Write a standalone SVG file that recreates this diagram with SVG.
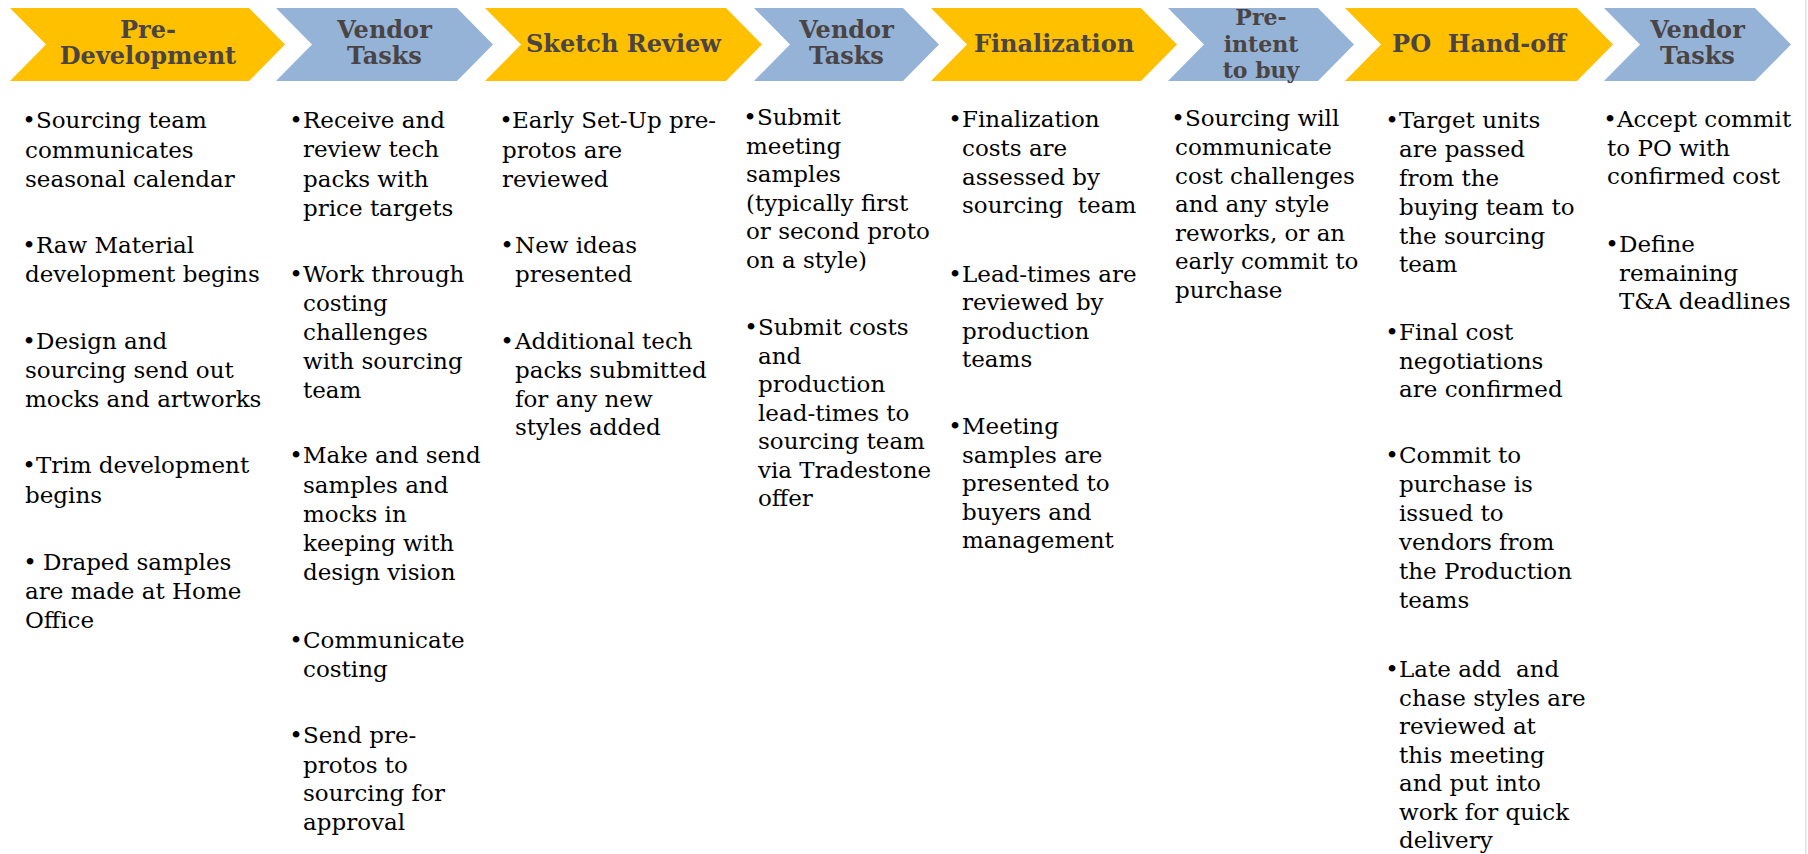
<svg xmlns="http://www.w3.org/2000/svg" width="1808" height="854" viewBox="0 0 1808 854">
<style>
.y{fill:#FFC000}
.bl{fill:#95B3D7}
.h{font-family:"DejaVu Serif",Georgia,serif;font-weight:bold;font-size:24px;fill:#4a4444;text-anchor:middle}
.h3{font-size:22px}
.t{font-family:"DejaVu Serif",Georgia,serif;font-size:23px;fill:#000;white-space:pre}
.bu{font-family:"DejaVu Serif",Georgia,serif;font-size:23px;fill:#000;text-anchor:middle}
</style>
<rect width="1808" height="854" fill="#fff"/>
<rect x="1805" y="0" width="1.5" height="854" fill="#dfe4ea"/>

<g id="stage1">
<polygon class="y" points="10,8 249,8 285,44.5 249,81 10,81 46,44.5"/>
<text class="h" x="148" y="38">Pre-</text>
<text class="h" x="148" y="64">Development</text>
<text class="bu" x="29" y="128">•</text><text class="t" x="36" y="128">Sourcing team</text>
<text class="t" x="25" y="158">communicates</text>
<text class="t" x="25" y="187">seasonal calendar</text>
<text class="bu" x="29" y="253">•</text><text class="t" x="36" y="253">Raw Material</text>
<text class="t" x="25" y="282">development begins</text>
<text class="bu" x="29" y="349">•</text><text class="t" x="36" y="349">Design and</text>
<text class="t" x="25" y="378">sourcing send out</text>
<text class="t" x="25" y="407">mocks and artworks</text>
<text class="bu" x="29" y="473">•</text><text class="t" x="36" y="473">Trim development</text>
<text class="t" x="25" y="503">begins</text>
<text class="bu" x="30" y="570">•</text><text class="t" x="43" y="570">Draped samples</text>
<text class="t" x="25" y="599">are made at Home</text>
<text class="t" x="25" y="628">Office</text>
</g>

<g id="stage2">
<polygon class="bl" points="276,8 457,8 493,44.5 457,81 276,81 312,44.5"/>
<text class="h" x="384.5" y="38">Vendor</text>
<text class="h" x="384.5" y="64">Tasks</text>
<text class="bu" x="296" y="128">•</text><text class="t" x="303" y="128">Receive and</text>
<text class="t" x="303" y="157">review tech</text>
<text class="t" x="303" y="186.5">packs with</text>
<text class="t" x="303" y="215.5">price targets</text>
<text class="bu" x="296" y="282">•</text><text class="t" x="303" y="282">Work through</text>
<text class="t" x="303" y="311">costing</text>
<text class="t" x="303" y="340">challenges</text>
<text class="t" x="303" y="369">with sourcing</text>
<text class="t" x="303" y="398">team</text>
<text class="bu" x="296" y="463">•</text><text class="t" x="303" y="463">Make and send</text>
<text class="t" x="303" y="492.5">samples and</text>
<text class="t" x="303" y="522">mocks in</text>
<text class="t" x="303" y="551">keeping with</text>
<text class="t" x="303" y="580">design vision</text>
<text class="bu" x="296" y="648">•</text><text class="t" x="303" y="648">Communicate</text>
<text class="t" x="303" y="677">costing</text>
<text class="bu" x="296" y="743">•</text><text class="t" x="303" y="743">Send pre-</text>
<text class="t" x="303" y="772.5">protos to</text>
<text class="t" x="303" y="801">sourcing for</text>
<text class="t" x="303" y="830">approval</text>
</g>

<g id="stage3">
<polygon class="y" points="485,8 726,8 762,44.5 726,81 485,81 521,44.5"/>
<text class="h" x="623.5" y="52">Sketch Review</text>
<text class="bu" x="506" y="128">•</text><text class="t" x="512" y="128">Early Set-Up pre-</text>
<text class="t" x="502" y="158">protos are</text>
<text class="t" x="502" y="187">reviewed</text>
<text class="bu" x="507" y="253">•</text><text class="t" x="515" y="253">New ideas</text>
<text class="t" x="515" y="282">presented</text>
<text class="bu" x="507" y="349">•</text><text class="t" x="515" y="349">Additional tech</text>
<text class="t" x="515" y="378">packs submitted</text>
<text class="t" x="515" y="407">for any new</text>
<text class="t" x="515" y="435">styles added</text>
</g>

<g id="stage4">
<polygon class="bl" points="754,8 903,8 939,44.5 903,81 754,81 790,44.5"/>
<text class="h" x="846.5" y="38">Vendor</text>
<text class="h" x="846.5" y="64">Tasks</text>
<text class="bu" x="750" y="125">•</text><text class="t" x="757" y="125">Submit</text>
<text class="t" x="746" y="153.5">meeting</text>
<text class="t" x="746" y="182">samples</text>
<text class="t" x="746" y="210.5">(typically first</text>
<text class="t" x="746" y="239">or second proto</text>
<text class="t" x="746" y="267.5">on a style)</text>
<text class="bu" x="751" y="335">•</text><text class="t" x="758" y="335">Submit costs</text>
<text class="t" x="758" y="363.5">and</text>
<text class="t" x="758" y="392">production</text>
<text class="t" x="758" y="420.5">lead-times to</text>
<text class="t" x="758" y="449">sourcing team</text>
<text class="t" x="758" y="477.5">via Tradestone</text>
<text class="t" x="758" y="506">offer</text>
</g>

<g id="stage5">
<polygon class="y" points="931,8 1141,8 1177,44.5 1141,81 931,81 967,44.5"/>
<text class="h" x="1054" y="52">Finalization</text>
<text class="bu" x="955" y="127">•</text><text class="t" x="962" y="127">Finalization</text>
<text class="t" x="962" y="156">costs are</text>
<text class="t" x="962" y="184.5">assessed by</text>
<text class="t" x="962" y="213">sourcing  team</text>
<text class="bu" x="955" y="282">•</text><text class="t" x="962" y="282">Lead-times are</text>
<text class="t" x="962" y="310">reviewed by</text>
<text class="t" x="962" y="338.5">production</text>
<text class="t" x="962" y="367">teams</text>
<text class="bu" x="955" y="434">•</text><text class="t" x="962" y="434">Meeting</text>
<text class="t" x="962" y="462.5">samples are</text>
<text class="t" x="962" y="491">presented to</text>
<text class="t" x="962" y="519.5">buyers and</text>
<text class="t" x="962" y="548">management</text>
</g>

<g id="stage6">
<polygon class="bl" points="1168,8 1318,8 1354,44.5 1318,81 1168,81 1204,44.5"/>
<text class="h h3" x="1261" y="25">Pre-</text>
<text class="h h3" x="1261" y="51.5">intent</text>
<text class="h h3" x="1261" y="78">to buy</text>
<text class="bu" x="1178" y="126">•</text><text class="t" x="1185" y="126">Sourcing will</text>
<text class="t" x="1175" y="155">communicate</text>
<text class="t" x="1175" y="183.5">cost challenges</text>
<text class="t" x="1175" y="212">and any style</text>
<text class="t" x="1175" y="240.5">reworks, or an</text>
<text class="t" x="1175" y="269">early commit to</text>
<text class="t" x="1175" y="298">purchase</text>
</g>

<g id="stage7">
<polygon class="y" points="1345,8 1577,8 1613,44.5 1577,81 1345,81 1381,44.5"/>
<text class="h" x="1479" y="52" xml:space="preserve" style="white-space:pre">PO  Hand-off</text>
<text class="bu" x="1392" y="128">•</text><text class="t" x="1399" y="128">Target units</text>
<text class="t" x="1399" y="157">are passed</text>
<text class="t" x="1399" y="186">from the</text>
<text class="t" x="1399" y="215">buying team to</text>
<text class="t" x="1399" y="243.5">the sourcing</text>
<text class="t" x="1399" y="272">team</text>
<text class="bu" x="1392" y="340">•</text><text class="t" x="1399" y="340">Final cost</text>
<text class="t" x="1399" y="368.5">negotiations</text>
<text class="t" x="1399" y="397">are confirmed</text>
<text class="bu" x="1392" y="463">•</text><text class="t" x="1399" y="463">Commit to</text>
<text class="t" x="1399" y="492">purchase is</text>
<text class="t" x="1399" y="521">issued to</text>
<text class="t" x="1399" y="550">vendors from</text>
<text class="t" x="1399" y="579">the Production</text>
<text class="t" x="1399" y="608">teams</text>
<text class="bu" x="1392" y="677">•</text><text class="t" x="1399" y="677">Late add  and</text>
<text class="t" x="1399" y="705.5">chase styles are</text>
<text class="t" x="1399" y="734">reviewed at</text>
<text class="t" x="1399" y="762.5">this meeting</text>
<text class="t" x="1399" y="791">and put into</text>
<text class="t" x="1399" y="819.5">work for quick</text>
<text class="t" x="1399" y="848">delivery</text>
</g>

<g id="stage8">
<polygon class="bl" points="1604,8 1755,8 1791,44.5 1755,81 1604,81 1640,44.5"/>
<text class="h" x="1697.5" y="38">Vendor</text>
<text class="h" x="1697.5" y="64">Tasks</text>
<text class="bu" x="1610" y="127">•</text><text class="t" x="1617" y="127">Accept commit</text>
<text class="t" x="1607" y="155.5">to PO with</text>
<text class="t" x="1607" y="184">confirmed cost</text>
<text class="bu" x="1612" y="252">•</text><text class="t" x="1619" y="252">Define</text>
<text class="t" x="1619" y="280.5">remaining</text>
<text class="t" x="1619" y="309">T&amp;A deadlines</text>
</g>
</svg>
